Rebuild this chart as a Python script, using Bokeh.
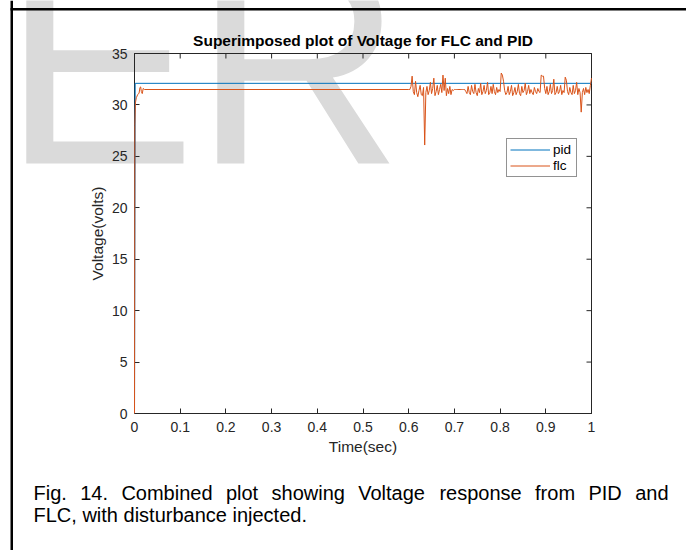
from bokeh.plotting import figure
from bokeh.models import Range1d, FixedTicker
from bokeh.core.properties import value
from bokeh.embed import file_html
from bokeh.resources import INLINE

# ---------------- data ----------------
TITLE = "Superimposed plot of Voltage for FLC and PID"
X_LABEL = "Time(sec)"
Y_LABEL = "Voltage(volts)"
CAPTION_1 = "Fig. 14. Combined plot showing Voltage response from PID and"
CAPTION_2 = "FLC, with disturbance injected."
WATERMARK = ["E", "R"]

X_TICKS = [0, 0.1, 0.2, 0.3, 0.4, 0.5, 0.6, 0.7, 0.8, 0.9, 1]
X_TICK_LABELS = ["0", "0.1", "0.2", "0.3", "0.4", "0.5", "0.6", "0.7", "0.8", "0.9", "1"]
Y_TICKS = [0, 5, 10, 15, 20, 25, 30, 35]
Y_TICK_LABELS = ["0", "5", "10", "15", "20", "25", "30", "35"]

PID_T = [0.0, 0.0015, 1.0]
PID_V = [0.0, 32.1, 32.1]

FLC_T_START = [0.0, 0.0008, 0.002, 0.004, 0.007, 0.010, 0.012, 0.0135, 0.015, 0.017, 0.019, 0.022, 0.600]
FLC_V_START = [0.0, 28.0, 30.2, 30.7, 31.0, 31.15, 31.7, 31.75, 31.3, 31.1, 31.6, 31.5, 31.5]

# disturbance period, sampled every 2.5 ms from 0.6025 s to 1.0 s
DIST_T0 = 0.6025
DIST_DT = 0.0025
DIST_V = [
    31.5, 31.8, 32.8, 31.3, 31.0, 32.3, 31.2, 30.8, 31.4, 31.9,
    31.0, 30.9, 31.7, 26.1, 31.2, 31.8, 31.0, 31.4, 32.2, 31.1,
    31.6, 32.6, 30.9, 31.3, 31.9, 31.0, 31.5, 32.0, 31.2, 32.9,
    31.4, 32.6, 30.9, 31.6, 31.1, 31.8, 31.0, 31.5, 31.4, 31.5,
    31.5, 31.5, 31.5, 31.5, 31.5, 31.5, 31.5, 31.5, 31.5, 31.3,
    31.1, 31.8, 31.2, 31.0, 31.9, 31.3, 31.1, 32.0, 31.2, 30.9,
    31.6, 31.2, 32.1, 31.0, 31.3, 31.9, 31.1, 31.4, 32.2, 31.0,
    31.2, 31.8, 31.1, 32.0, 31.3, 31.0, 31.7, 31.2, 31.5, 31.3,
    33.1, 32.9, 32.3, 31.4, 31.0, 31.2, 31.8, 31.0, 31.3, 31.9,
    30.9, 31.2, 31.7, 31.0, 31.3, 32.0, 31.1, 30.9, 31.8, 31.2,
    31.4, 32.1, 31.0, 31.3, 31.9, 31.1, 31.5, 31.2, 31.0, 31.7,
    31.3, 31.1, 31.6, 31.3, 31.2, 32.9, 32.8, 32.8, 31.6, 31.1,
    31.8, 31.0, 31.3, 32.0, 31.1, 31.4, 32.5, 31.0, 31.2, 31.8,
    31.1, 31.3, 31.9, 31.0, 31.4, 31.2, 32.7, 32.4, 31.3, 31.0,
    31.7, 31.2, 31.0, 31.9, 31.1, 31.4, 32.2, 31.0, 31.6, 31.2,
    29.3, 31.2, 31.6, 31.0, 31.7, 31.2, 31.5, 31.1, 31.9, 32.6,
]

FLC_T = FLC_T_START + [round(DIST_T0 + DIST_DT * i, 5) for i in range(len(DIST_V))]
FLC_V = FLC_V_START + DIST_V

# ---------------- layout constants ----------------
W, H = 686, 550
FL, FR, FT, FB = 134, 591, 53, 413      # plot box edges in pixels
X0, X1 = X_TICKS[0], X_TICKS[-1]
Y0, Y1 = Y_TICKS[0], Y_TICKS[-1]
FONT = "Liberation Sans"
AX_COLOR = "#262626"
PID_COLOR = "#0072BD"
FLC_COLOR = "#D95319"
WM_COLOR = "#dadada"
BASE_SHIFT = 0.355   # text drawn with "alphabetic" baseline lands this many em lower


def px2x(px):
    return X0 + (px - FL) / (FR - FL) * (X1 - X0)


def py2y(py):
    return Y0 + (FB - py) / (FB - FT) * (Y1 - Y0)


def base_y(py, fs):
    """data y for a text whose baseline should sit at pixel row py"""
    return py2y(py - BASE_SHIFT * fs)


# the frame covers the whole canvas; the axes are pinned to the data box
p = figure(width=W, height=H, x_range=Range1d(px2x(0), px2x(W)),
           y_range=Range1d(py2y(H), py2y(0)), title=None,
           output_backend="svg", toolbar_location=None, min_border=0)
p.background_fill_color = "white"
p.border_fill_color = "white"
p.outline_line_color = None
p.xgrid.grid_line_color = None
p.ygrid.grid_line_color = None

# watermark letters (lowest layer)
WM_FS = 290
p.text(x=[px2x(2), px2x(193)], y=[base_y(165, WM_FS)] * 2, text=WATERMARK,
       text_font=value(FONT), text_font_size=value(f"{WM_FS}px"), text_color=WM_COLOR,
       text_baseline="alphabetic", text_align="left", level="image")

# page border lines (left and top)
p.quad(left=[px2x(10), px2x(10)], right=[px2x(12.5), px2x(W + 5)],
       bottom=[py2y(H + 5), py2y(10)], top=[py2y(0), py2y(7.5)],
       fill_color="black", line_color=None)

# box around the axes and inward ticks on the top and right sides
p.quad(left=[X0], right=[X1], bottom=[Y0], top=[Y1], fill_color=None,
       line_color=AX_COLOR, line_width=1)
tick_dy = 5 * (Y1 - Y0) / (FB - FT)
tick_dx = 5 * (X1 - X0) / (FR - FL)
p.segment(x0=X_TICKS, x1=X_TICKS, y0=[Y1] * len(X_TICKS), y1=[Y1 - tick_dy] * len(X_TICKS),
          line_color=AX_COLOR, line_width=1)
p.segment(x0=[X1] * len(Y_TICKS), x1=[X1 - tick_dx] * len(Y_TICKS), y0=Y_TICKS, y1=Y_TICKS,
          line_color=AX_COLOR, line_width=1)

# axes: above the watermark, beneath the data lines
xo = {float(t): l for t, l in zip(X_TICKS, X_TICK_LABELS)}
yo = {float(t): l for t, l in zip(Y_TICKS, Y_TICK_LABELS)}


def style_axis(ax):
    ax.level = "underlay"
    ax.axis_line_color = AX_COLOR
    ax.axis_line_width = 1
    ax.major_tick_line_color = AX_COLOR
    ax.major_tick_in = 5
    ax.major_tick_out = 0
    ax.minor_tick_line_color = None
    ax.major_label_text_font = FONT
    ax.major_label_text_color = AX_COLOR
    ax.major_label_text_font_size = "14px"
    ax.axis_label_text_font = FONT
    ax.axis_label_text_font_style = "normal"
    ax.axis_label_text_color = AX_COLOR
    ax.axis_label_text_font_size = "15.5px"


xa = p.xaxis[0]
xa.ticker = FixedTicker(ticks=X_TICKS)
xa.major_label_overrides = xo
xa.fixed_location = Y0
xa.bounds = (X0, X1)
style_axis(xa)
xa.major_label_standoff = 8
xa.axis_label = X_LABEL
xa.axis_label_standoff = 3

ya = p.yaxis[0]
ya.ticker = FixedTicker(ticks=Y_TICKS)
ya.major_label_overrides = yo
ya.fixed_location = X0
ya.bounds = (Y0, Y1)
style_axis(ya)
ya.major_label_standoff = 7
ya.axis_label = Y_LABEL
ya.axis_label_standoff = 3

# data lines
p.line(PID_T, PID_V, line_color=PID_COLOR, line_width=1, legend_label="pid")
p.line(FLC_T, FLC_V, line_color=FLC_COLOR, line_width=1, legend_label="flc")

# title
TITLE_FS = 15.5
p.text(x=[(X0 + X1) / 2], y=[base_y(46, TITLE_FS)], text=[TITLE], text_font=value(FONT),
       text_font_size=value(f"{TITLE_FS}px"), text_font_style="bold", text_color="black",
       text_align="center", text_baseline="alphabetic")

# legend
lg = p.legend[0]
lg.location = (506, H - 177)
lg.margin = 0
lg.padding = 3
lg.spacing = 1
lg.glyph_width = 40
lg.glyph_height = 15
lg.label_height = 15
lg.label_standoff = 3
lg.label_text_font = FONT
lg.label_text_font_size = "13.5px"
lg.label_text_color = "black"
lg.border_line_color = AX_COLOR
lg.border_line_width = 1
lg.background_fill_color = "white"
lg.background_fill_alpha = 1

# caption (first line justified)
ARIAL = {" ": 278, ".": 278, ",": 278, "1": 556, "4": 556, "F": 611, "L": 556, "C": 722,
         "V": 667, "P": 667, "I": 278, "D": 722, "a": 556, "b": 556, "c": 500, "d": 556,
         "e": 556, "f": 278, "g": 556, "h": 556, "i": 222, "j": 222, "l": 222, "m": 833,
         "n": 556, "o": 556, "p": 556, "r": 333, "s": 500, "t": 278, "u": 556, "w": 722}
CAP_FS = 20
CAP_X0, CAP_X1 = 33, 668


def text_w(s):
    return sum(ARIAL.get(c, 556) for c in s) / 1000 * CAP_FS


words = CAPTION_1.split()
gap = (CAP_X1 - CAP_X0 - sum(text_w(w) for w in words)) / (len(words) - 1)
wx, cx = [], CAP_X0
for wd in words:
    wx.append(px2x(cx))
    cx += text_w(wd) + gap
p.text(x=wx + [px2x(CAP_X0)],
       y=[base_y(500, CAP_FS)] * len(words) + [base_y(522, CAP_FS)],
       text=words + [CAPTION_2], text_font=value(FONT),
       text_font_size=value(f"{CAP_FS}px"), text_color="black",
       text_align="left", text_baseline="alphabetic")

open("out.html", "w").write(file_html(p, INLINE))
